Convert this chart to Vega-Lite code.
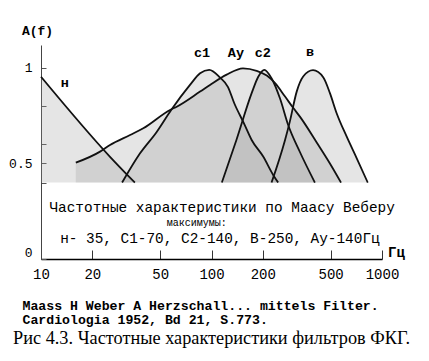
{
  "$schema": "https://vega.github.io/schema/vega-lite/v6.json",
  "width": 341,
  "height": 214,
  "autosize": "none",
  "padding": {"left": 41, "top": 45, "right": 47, "bottom": 102},
  "background": "white",
  "config": {"view": {"stroke": null}},
  "title": {
    "text": "Рис 4.3. Частотные характеристики фильтров ФКГ.",
    "orient": "bottom",
    "anchor": "middle",
    "font": "Liberation Serif",
    "fontSize": 18.3,
    "fontWeight": "normal",
    "color": "#000",
    "offset": 5,
    "baseline": "top"
  },
  "datasets": {
    "curves": [
      {"curve": "н", "f": 10, "A": 0.954},
      {"curve": "н", "f": 25.4, "A": 0.535},
      {"curve": "н", "f": 35.5, "A": 0.4},
      {"curve": "Ау", "f": 16, "A": 0.504},
      {"curve": "Ау", "f": 22.2, "A": 0.562},
      {"curve": "Ау", "f": 25.4, "A": 0.597},
      {"curve": "Ау", "f": 33.3, "A": 0.649},
      {"curve": "Ау", "f": 39.8, "A": 0.684},
      {"curve": "Ау", "f": 57.1, "A": 0.78},
      {"curve": "Ау", "f": 62.5, "A": 0.797},
      {"curve": "Ау", "f": 85.7, "A": 0.876},
      {"curve": "Ау", "f": 98, "A": 0.911},
      {"curve": "Ау", "f": 122.7, "A": 0.965},
      {"curve": "Ау", "f": 153, "A": 0.998},
      {"curve": "Ау", "f": 184, "A": 0.985},
      {"curve": "Ау", "f": 211, "A": 0.96},
      {"curve": "Ау", "f": 236, "A": 0.92},
      {"curve": "Ау", "f": 270, "A": 0.85},
      {"curve": "Ау", "f": 302, "A": 0.79},
      {"curve": "Ау", "f": 330, "A": 0.745},
      {"curve": "Ау", "f": 414, "A": 0.61},
      {"curve": "Ау", "f": 495, "A": 0.5},
      {"curve": "Ау", "f": 575, "A": 0.4},
      {"curve": "с1", "f": 29.9, "A": 0.4},
      {"curve": "с1", "f": 38.1, "A": 0.553},
      {"curve": "с1", "f": 47.7, "A": 0.665},
      {"curve": "с1", "f": 58, "A": 0.78},
      {"curve": "с1", "f": 74.8, "A": 0.911},
      {"curve": "с1", "f": 85.7, "A": 0.972},
      {"curve": "с1", "f": 97, "A": 0.99},
      {"curve": "с1", "f": 112, "A": 0.95},
      {"curve": "с1", "f": 125, "A": 0.9},
      {"curve": "с1", "f": 136, "A": 0.815},
      {"curve": "с1", "f": 155, "A": 0.71},
      {"curve": "с1", "f": 172, "A": 0.623},
      {"curve": "с1", "f": 201, "A": 0.536},
      {"curve": "с1", "f": 230, "A": 0.44},
      {"curve": "с1", "f": 246, "A": 0.4},
      {"curve": "с2", "f": 115, "A": 0.4},
      {"curve": "с2", "f": 140, "A": 0.623},
      {"curve": "с2", "f": 172, "A": 0.868},
      {"curve": "с2", "f": 188, "A": 0.954},
      {"curve": "с2", "f": 204, "A": 0.99},
      {"curve": "с2", "f": 225, "A": 0.946},
      {"curve": "с2", "f": 252, "A": 0.841},
      {"curve": "с2", "f": 282, "A": 0.7},
      {"curve": "с2", "f": 330, "A": 0.56},
      {"curve": "с2", "f": 404, "A": 0.4},
      {"curve": "в", "f": 225, "A": 0.4},
      {"curve": "в", "f": 270, "A": 0.623},
      {"curve": "в", "f": 288, "A": 0.719},
      {"curve": "в", "f": 316, "A": 0.876},
      {"curve": "в", "f": 345, "A": 0.955},
      {"curve": "в", "f": 394, "A": 0.988},
      {"curve": "в", "f": 453, "A": 0.95},
      {"curve": "в", "f": 495, "A": 0.868},
      {"curve": "в", "f": 542, "A": 0.763},
      {"curve": "в", "f": 621, "A": 0.64},
      {"curve": "в", "f": 711, "A": 0.527},
      {"curve": "в", "f": 825, "A": 0.4}
    ],
    "labels": [
      {"label": "н", "f": 13.8, "A": 0.92},
      {"label": "с1", "f": 88, "A": 1.08},
      {"label": "Ау", "f": 139, "A": 1.08},
      {"label": "с2", "f": 200, "A": 1.08},
      {"label": "в", "f": 378, "A": 1.085}
    ],
    "notes": [
      {"text": "Частотные характеристики по Маасу Веберу", "f": 115.5, "A": 0.267, "kind": "line"},
      {"text": "максимумы:", "f": 82, "A": 0.188, "kind": "small"},
      {"text": "н- 35, С1-70, С2-140, В-250, Ау-140Гц", "f": 112, "A": 0.105, "kind": "line"}
    ],
    "unit": [
      {"text": "Гц", "f": 1000, "A": 0}
    ]
  },
  "layer": [
    {
      "data": {"name": "curves"},
      "mark": {"type": "area", "interpolate": "monotone", "fill": "#999999", "fillOpacity": 0.25},
      "encoding": {
        "x": {
          "field": "f", "type": "quantitative",
          "scale": {"type": "log", "domain": [10, 1000]},
          "axis": {
            "values": [10, 20, 50, 100, 200, 500, 1000],
            "format": "d",
            "labelFlush": false,
            "labelFont": "Liberation Mono",
            "labelFontSize": 14,
            "labelColor": "#000",
            "labelPadding": 17,
            "tickSize": -9,
            "tickColor": "#333",
            "tickWidth": 1,
            "domainColor": "#000",
            "domainWidth": 1.6,
            "grid": false,
            "title": ["Maass H Weber A Herzschall... mittels Filter.", "Cardiologia 1952, Bd 21, S.773."],
            "titleFont": "Liberation Mono",
            "titleFontSize": 13.2,
            "titleFontWeight": "bold",
            "titleColor": "#000",
            "titleAlign": "left",
            "titleBaseline": "top",
            "titleX": -19,
            "titleY": 40,
            "titleLineHeight": 14
          }
        },
        "y": {
          "field": "A", "type": "quantitative",
          "scale": {"domain": [0, 1.12], "nice": false, "zero": false},
          "stack": null,
          "axis": {
            "values": [0, 0.4, 0.5, 0.6, 0.8, 1],
            "labelExpr": "datum.value == 0 ? '0' : datum.value == 0.5 ? '0.5' : datum.value == 1 ? '1' : ''",
            "labelFont": "Liberation Mono",
            "labelFontSize": 13,
            "labelColor": "#000",
            "labelPadding": 14,
            "labelFlush": true,
            "tickSize": -5,
            "tickColor": "#555",
            "domainColor": "#444",
            "domainWidth": 1,
            "grid": false,
            "title": "A(f)",
            "titleFont": "Liberation Mono",
            "titleFontSize": 13,
            "titleFontWeight": "bold",
            "titleColor": "#000",
            "titleAngle": 0,
            "titleAlign": "center",
            "titleBaseline": "middle",
            "titleX": -4,
            "titleY": -15
          }
        },
        "y2": {"datum": 0.4},
        "detail": {"field": "curve"}
      }
    },
    {
      "data": {"name": "curves"},
      "mark": {"type": "line", "interpolate": "monotone", "stroke": "#111", "strokeWidth": 1.8},
      "encoding": {
        "x": {"field": "f", "type": "quantitative"},
        "y": {"field": "A", "type": "quantitative"},
        "detail": {"field": "curve"}
      }
    },
    {
      "data": {"name": "labels"},
      "mark": {"type": "text", "font": "Liberation Mono", "fontSize": 13.5, "fontWeight": "bold", "color": "#000", "baseline": "middle", "align": "center"},
      "encoding": {
        "x": {"field": "f", "type": "quantitative"},
        "y": {"field": "A", "type": "quantitative"},
        "text": {"field": "label"}
      }
    },
    {
      "data": {"name": "notes"},
      "mark": {"type": "text", "font": "Liberation Mono", "color": "#000", "baseline": "middle", "align": "center"},
      "encoding": {
        "x": {"field": "f", "type": "quantitative"},
        "y": {"field": "A", "type": "quantitative"},
        "text": {"field": "text"},
        "size": {"field": "kind", "type": "nominal", "scale": {"domain": ["line", "small"], "range": [14.4, 10]}, "legend": null},
        "fontWeight": {"condition": {"test": "datum.kind == 'small'", "value": "bold"}, "value": "normal"}
      }
    },
    {
      "data": {"name": "unit"},
      "mark": {"type": "text", "font": "Liberation Mono", "fontSize": 14, "fontWeight": "bold", "color": "#000", "baseline": "middle", "align": "left", "dx": 6, "dy": -6},
      "encoding": {
        "x": {"field": "f", "type": "quantitative"},
        "y": {"field": "A", "type": "quantitative"},
        "text": {"field": "text"}
      }
    }
  ]
}
